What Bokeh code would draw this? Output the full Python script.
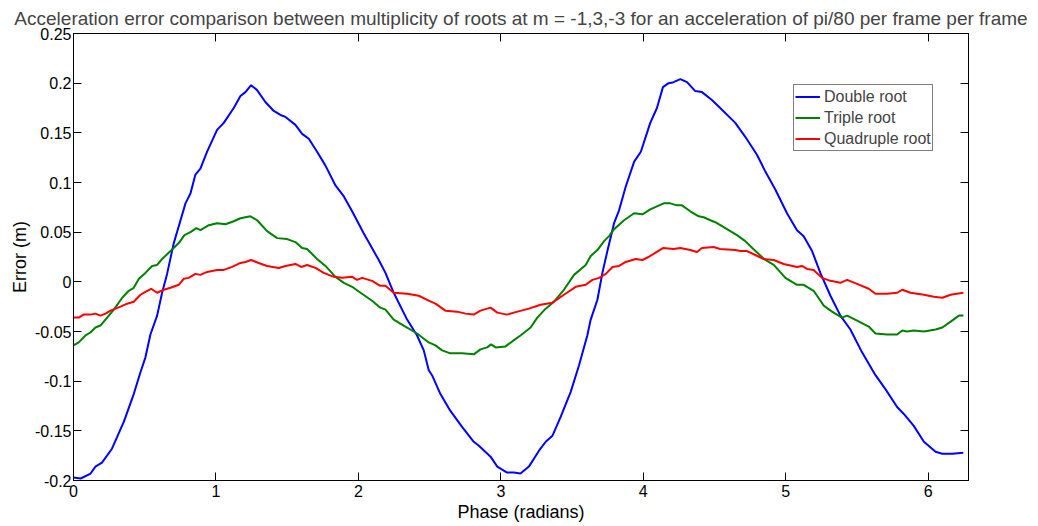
import numpy as np
from bokeh.plotting import figure
from bokeh.models import LinearAxis, FixedTicker, Legend, LegendItem, Range1d
from bokeh.embed import file_html
from bokeh.resources import INLINE

title_text = "Acceleration error comparison between multiplicity of roots at m = -1,3,-3 for an acceleration of pi/80 per frame per frame"
x_label = "Phase (radians)"
y_label = "Error (m)"
series_names = ["Double root", "Triple root", "Quadruple root"]

x_ticks = [0, 1, 2, 3, 4, 5, 6]
x_tick_labels = ["0", "1", "2", "3", "4", "5", "6"]
y_ticks = [-0.2, -0.15, -0.1, -0.05, 0, 0.05, 0.1, 0.15, 0.2, 0.25]
y_tick_labels = ["-0.2", "-0.15", "-0.1", "-0.05", "0", "0.05", "0.1", "0.15", "0.2", "0.25"]

double_x = [0, 0.05, 0.12, 0.154, 0.2, 0.27, 0.353, 0.423, 0.47, 0.505,
            0.54, 0.587, 0.622, 0.657, 0.704, 0.739, 0.786, 0.821, 0.856, 0.891,
            0.938, 1.008, 1.055, 1.125, 1.172, 1.207, 1.247, 1.289, 1.347, 1.406,
            1.453, 1.488, 1.558, 1.605, 1.652, 1.71, 1.769, 1.839, 1.898, 1.956,
            2.037, 2.143, 2.19, 2.248, 2.342, 2.412, 2.459, 2.494, 2.517, 2.576,
            2.646, 2.728, 2.81, 2.846, 2.928, 2.975, 3.044, 3.091, 3.138, 3.197,
            3.268, 3.315, 3.362, 3.42, 3.49, 3.549, 3.607, 3.631, 3.678, 3.713,
            3.748, 3.795, 3.83, 3.877, 3.936, 3.983, 4.049, 4.096, 4.138, 4.178,
            4.213, 4.26, 4.307, 4.365, 4.412, 4.482, 4.54, 4.646, 4.716, 4.798,
            4.857, 4.927, 5.009, 5.079, 5.126, 5.185, 5.243, 5.314, 5.384, 5.454,
            5.536, 5.63, 5.7, 5.782, 5.829, 5.899, 5.97, 6.052, 6.099, 6.169,
            6.247]
double_y = [-0.197, -0.198, -0.193, -0.186, -0.182, -0.168, -0.141, -0.113, -0.091, -0.076,
            -0.053, -0.034, -0.011, 0.008, 0.039, 0.056, 0.079, 0.089, 0.108, 0.114,
            0.131, 0.153, 0.160, 0.175, 0.187, 0.191, 0.198, 0.193, 0.181, 0.172,
            0.168, 0.166, 0.158, 0.149, 0.144, 0.131, 0.117, 0.097, 0.086, 0.071,
            0.049, 0.022, 0.009, -0.011, -0.038, -0.054, -0.069, -0.089, -0.094, -0.113,
            -0.130, -0.146, -0.161, -0.165, -0.176, -0.186, -0.192, -0.192, -0.193, -0.186,
            -0.170, -0.161, -0.155, -0.136, -0.111, -0.084, -0.054, -0.038, -0.018, 0.009,
            0.031, 0.059, 0.072, 0.096, 0.121, 0.131, 0.160, 0.175, 0.196, 0.200,
            0.201, 0.204, 0.201, 0.192, 0.191, 0.183, 0.175, 0.160, 0.146, 0.128,
            0.111, 0.093, 0.069, 0.052, 0.046, 0.031, 0.009, -0.014, -0.034, -0.048,
            -0.071, -0.094, -0.108, -0.126, -0.133, -0.145, -0.161, -0.171, -0.173, -0.173,
            -0.172]

triple_x = [0, 0.037, 0.084, 0.119, 0.154, 0.189, 0.236, 0.283, 0.342, 0.388,
            0.423, 0.459, 0.505, 0.552, 0.587, 0.622, 0.681, 0.739, 0.779, 0.821,
            0.863, 0.891, 0.95, 1.008, 1.067, 1.125, 1.172, 1.242, 1.289, 1.359,
            1.43, 1.5, 1.558, 1.605, 1.64, 1.71, 1.769, 1.839, 1.898, 1.956,
            2.015, 2.096, 2.154, 2.19, 2.248, 2.318, 2.412, 2.494, 2.541, 2.588,
            2.646, 2.728, 2.81, 2.857, 2.904, 2.932, 2.963, 3.033, 3.08, 3.138,
            3.209, 3.256, 3.315, 3.373, 3.443, 3.514, 3.596, 3.631, 3.678, 3.725,
            3.76, 3.795, 3.865, 3.936, 3.994, 4.049, 4.143, 4.19, 4.236, 4.272,
            4.33, 4.389, 4.424, 4.471, 4.506, 4.576, 4.658, 4.716, 4.787, 4.857,
            4.916, 4.998, 5.079, 5.126, 5.196, 5.267, 5.325, 5.395, 5.431, 5.501,
            5.583, 5.63, 5.712, 5.782, 5.818, 5.853, 5.899, 5.97, 6.052, 6.099,
            6.158, 6.216, 6.247]
triple_y = [-0.064, -0.061, -0.054, -0.051, -0.046, -0.044, -0.036, -0.028, -0.016, -0.009,
            -0.006, 0.003, 0.009, 0.016, 0.017, 0.023, 0.031, 0.039, 0.047, 0.050,
            0.054, 0.052, 0.057, 0.059, 0.058, 0.061, 0.064, 0.066, 0.062, 0.051,
            0.044, 0.043, 0.040, 0.034, 0.033, 0.023, 0.016, 0.005, -0.001, -0.005,
            -0.011, -0.019, -0.026, -0.028, -0.038, -0.044, -0.052, -0.061, -0.064, -0.069,
            -0.072, -0.072, -0.073, -0.068, -0.066, -0.063, -0.066, -0.065, -0.060, -0.054,
            -0.046, -0.036, -0.027, -0.020, -0.008, 0.007, 0.017, 0.026, 0.032, 0.041,
            0.046, 0.053, 0.062, 0.069, 0.068, 0.073, 0.079, 0.079, 0.077, 0.077,
            0.071, 0.066, 0.065, 0.062, 0.060, 0.054, 0.047, 0.041, 0.031, 0.022,
            0.017, 0.004, -0.003, -0.003, -0.009, -0.024, -0.030, -0.036, -0.034, -0.039,
            -0.045, -0.052, -0.053, -0.053, -0.049, -0.050, -0.049, -0.050, -0.048, -0.046,
            -0.040, -0.034, -0.034]

quad_x = [0, 0.037, 0.07, 0.119, 0.154, 0.189, 0.225, 0.26, 0.295, 0.33,
          0.377, 0.423, 0.47, 0.505, 0.545, 0.587, 0.634, 0.681, 0.739, 0.774,
          0.809, 0.856, 0.891, 0.938, 1.008, 1.055, 1.113, 1.172, 1.207, 1.247,
          1.3, 1.359, 1.441, 1.488, 1.558, 1.598, 1.64, 1.699, 1.757, 1.827,
          1.886, 1.956, 1.991, 2.026, 2.096, 2.154, 2.19, 2.248, 2.342, 2.424,
          2.494, 2.541, 2.611, 2.693, 2.752, 2.81, 2.857, 2.928, 2.975, 3.044,
          3.091, 3.197, 3.279, 3.362, 3.443, 3.526, 3.596, 3.643, 3.69, 3.737,
          3.784, 3.83, 3.877, 3.947, 3.994, 4.037, 4.138, 4.213, 4.26, 4.33,
          4.377, 4.412, 4.494, 4.54, 4.646, 4.681, 4.728, 4.787, 4.845, 4.916,
          4.986, 5.079, 5.114, 5.15, 5.196, 5.255, 5.314, 5.384, 5.431, 5.501,
          5.583, 5.63, 5.712, 5.782, 5.818, 5.876, 5.97, 6.04, 6.099, 6.158,
          6.247]
quad_y = [-0.036, -0.036, -0.033, -0.033, -0.032, -0.034, -0.032, -0.029, -0.027, -0.025,
          -0.022, -0.020, -0.013, -0.010, -0.007, -0.011, -0.008, -0.006, -0.003, 0.003,
          0.004, 0.008, 0.007, 0.010, 0.012, 0.012, 0.015, 0.019, 0.020, 0.022,
          0.019, 0.016, 0.014, 0.016, 0.018, 0.015, 0.017, 0.014, 0.009, 0.005,
          0.004, 0.005, 0.002, 0.004, 0.001, -0.004, -0.004, -0.011, -0.012, -0.014,
          -0.019, -0.022, -0.029, -0.030, -0.032, -0.033, -0.029, -0.026, -0.031, -0.033,
          -0.031, -0.027, -0.023, -0.021, -0.013, -0.005, -0.003, 0.002, 0.004, 0.008,
          0.015, 0.016, 0.020, 0.023, 0.022, 0.025, 0.034, 0.033, 0.034, 0.032,
          0.030, 0.034, 0.035, 0.033, 0.032, 0.031, 0.031, 0.027, 0.023, 0.022,
          0.018, 0.015, 0.016, 0.013, 0.012, 0.004, 0.001, -0.001, 0.002, -0.002,
          -0.007, -0.012, -0.012, -0.011, -0.008, -0.011, -0.013, -0.015, -0.016, -0.013,
          -0.011]

FONT = "Liberation Sans"

p = figure(width=1036, height=524,
           x_range=Range1d(0, 2 * np.pi), y_range=Range1d(-0.2, 0.25),
           output_backend="svg", toolbar_location=None,
           min_border_left=73, min_border_right=68, min_border_top=33, min_border_bottom=42,
           title=title_text)

p.title.text_font = FONT
p.title.text_font_size = "19px"
p.title.text_font_style = "normal"
p.title.align = "center"
p.title.standoff = 9

p.xgrid.visible = False
p.ygrid.visible = False
p.outline_line_color = "black"
p.outline_line_width = 1
p.background_fill_color = "white"
p.border_fill_color = "white"

def style_axis(ax, ticks, labels, show_labels=True):
    ax.ticker = FixedTicker(ticks=ticks)
    ax.major_tick_in = 8
    ax.major_tick_out = 0
    ax.minor_tick_in = 0
    ax.minor_tick_out = 0
    ax.axis_line_color = "black"
    ax.major_tick_line_color = "black"
    ax.major_label_text_font = FONT
    ax.major_label_text_color = "black"
    if show_labels:
        ax.major_label_overrides = {t: l for t, l in zip(ticks, labels)}
        ax.major_label_text_font_size = "16px"
    else:
        ax.major_label_overrides = {t: "" for t in ticks}
        ax.major_label_text_font_size = "1px"
        ax.major_label_standoff = 0

style_axis(p.xaxis[0], x_ticks, x_tick_labels)
style_axis(p.yaxis[0], y_ticks, y_tick_labels)
p.xaxis[0].major_label_standoff = 4
p.yaxis[0].major_label_standoff = 2
p.xaxis[0].axis_label = x_label
p.yaxis[0].axis_label = y_label
for ax in (p.xaxis[0], p.yaxis[0]):
    ax.axis_label_text_font = FONT
    ax.axis_label_text_font_size = "18px"
    ax.axis_label_text_font_style = "normal"
    ax.axis_label_text_color = "black"
p.xaxis[0].axis_label_standoff = 2
p.yaxis[0].axis_label_standoff = 2

top_axis = LinearAxis()
style_axis(top_axis, x_ticks, x_tick_labels, show_labels=False)
p.add_layout(top_axis, "above")
right_axis = LinearAxis()
style_axis(right_axis, y_ticks, y_tick_labels, show_labels=False)
p.add_layout(right_axis, "right")

r1 = p.line(double_x, double_y, line_color="#0000ff", line_width=2)
r2 = p.line(triple_x, triple_y, line_color="#008000", line_width=2)
r3 = p.line(quad_x, quad_y, line_color="#ff0000", line_width=2)

legend = Legend(items=[LegendItem(label=series_names[0], renderers=[r1]),
                       LegendItem(label=series_names[1], renderers=[r2]),
                       LegendItem(label=series_names[2], renderers=[r3])],
                location=(720, 329), margin=0, padding=1, spacing=0,
                glyph_width=25, glyph_height=21, label_height=21, label_standoff=4,
                label_text_font=FONT, label_text_font_size="16px",
                border_line_color="black", border_line_width=1,
                background_fill_color="white", background_fill_alpha=1)
p.add_layout(legend)

open("out.html", "w").write(file_html(p, INLINE))
